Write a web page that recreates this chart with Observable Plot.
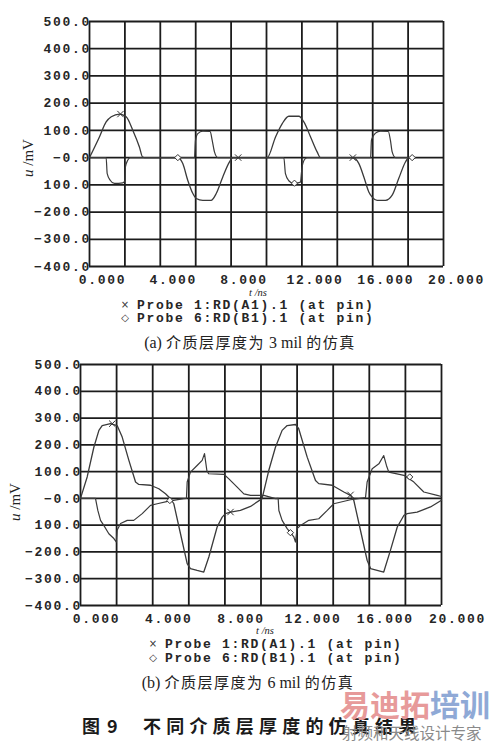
<!DOCTYPE html>
<html><head><meta charset="utf-8">
<script src="https://cdn.jsdelivr.net/npm/d3@7"></script>
<script src="https://cdn.jsdelivr.net/npm/@observablehq/plot@0.6"></script>
<style>
body{margin:0;background:#fff;}
#root{position:relative;width:494px;height:741px;overflow:hidden;background:#fff;}
.abs{position:absolute;white-space:pre;line-height:1;}
.c{transform:translate(-50%,-50%);}
.l{transform:translateY(-50%);}
.mono{font-family:"Liberation Mono",monospace;font-weight:bold;font-size:13px;letter-spacing:1.7px;color:#262626;}
.sym{font-family:"DejaVu Sans",sans-serif;font-size:10px;color:#333;}
.ylab{font-family:"Liberation Serif",serif;font-size:15px;color:#222;transform:translate(-50%,-50%) rotate(-90deg);}
.xlab{font-family:"Liberation Serif",serif;font-style:italic;font-size:10.5px;color:#222;}
.cap{font-family:"Noto Sans CJK SC",serif;font-size:15px;color:#222;letter-spacing:1.5px;}
.cap .lat{font-family:"Liberation Serif",serif;font-size:16px;letter-spacing:0;}
.fig{font-family:"Noto Sans CJK SC",serif;font-weight:bold;font-size:18px;letter-spacing:5.2px;color:#1a1a1a;}
.wm{font-family:"Noto Sans CJK SC",sans-serif;font-weight:bold;font-size:30px;letter-spacing:0;}
.wm2{font-family:"Noto Sans CJK SC",serif;font-size:15.5px;color:#8a8a8a;}
svg text{letter-spacing:1.7px;}
</style>
</head><body>
<div id="root"></div>
<script>
// ---------- data ----------
const xTicks = [0, 4, 8, 12, 16, 20];
const xTickLabels = ["0.000", "4.000", "8.000", "12.000", "16.000", "20.000"];
const xGrid = [0, 2, 4, 6, 8, 10, 12, 14, 16, 18, 20];
const yTicks = [-400, -300, -200, -100, 0, 100, 200, 300, 400, 500];
const yTickLabels = ["\u2212400.0", "\u2212300.0", "\u2212200.0", "100.0", "\u22120.0", "100.0", "200.0", "300.0", "400.0", "500.0"];

// (a) 3 mil — Probe 1 (A1)
const a3_t = [0,0.56,0.94,1.23,1.7,2.07,2.45,2.82,3.0,3.2, 4.99,5.27,5.55,5.84,6.03,6.4,6.87,7.16,7.53,7.91,8.1, 10.04,10.51,10.89,11.26,11.83,12.11,12.49,12.86,13.05, 14.88,15.22,15.5,15.78,15.97,16.25,16.72,17.1,17.47,17.85,18.04,18.4];
const a3_v = [0,76,131,150,160,150,100,39,2,0, 0,-22,-83,-132,-150,-157,-157,-132,-71,-16,0, 0,76,125,152,152,131,76,21,0, 0,-22,-71,-126,-145,-157,-157,-138,-77,-16,0,0];
// (a) 3 mil — Probe 6 (B1)
const b3_t = [0,0.94,1.0,1.17,1.41,1.88,2.0,2.03,2.16,2.3, 5.93,5.99,6.12,6.4,6.82,6.93,7.06,7.25, 10.98,11.07,11.26,11.54,11.92,11.98,12.05,12.2,12.3, 15.88,15.93,16.16,16.44,16.88,17.0,17.1,17.29,18.4];
const b3_v = [0,0,-59,-83,-95,-93,-85,-34,-10,0, 0,64,88,97,96,64,21,0, 0,-59,-85,-95,-90,-52,-22,-3,0, 0,64,90,97,96,64,21,0,0];
const a3_mark_t = [1.75, 8.4, 14.88];
const a3_mark_v = [160, 0, 0];
const b3_mark_t = [4.99, 11.58, 18.23];
const b3_mark_v = [0, -94, 0];

// (b) 6 mil — Probe 1 (A1)
const a6_t = [0,0.37,0.74,1.02,1.2,1.66,2.03,2.31,2.68,3.05,3.23,3.88,4.34,4.71,4.99,5.17,5.54,5.91,6.09,6.46,6.83,7.11,7.57,7.85,8.03,8.31,8.86,9.42,10.06,10.43,10.8,11.17,11.45,11.91,12.09,12.56,13.02,13.2,13.94,14.59,14.96,15.14,15.51,15.88,16.07,16.8,17.17,17.55,17.92,18.1,18.65,19.39,20];
const a6_v = [0,80,191,254,272,279,272,229,142,61,52,49,36,17,-1,-20,-132,-244,-262,-269,-275,-219,-107,-70,-57,-51,-45,-30,-1,104,191,254,272,276,260,154,67,55,49,24,11,-7,-119,-231,-262,-275,-194,-107,-63,-57,-51,-32,-7];
// (b) 6 mil — Probe 6 (B1)
const b6_t = [0,0.83,0.96,1.11,1.29,1.57,1.85,1.98,2.03,2.22,2.59,2.95,3.42,3.88,4.25,4.89,5.72,5.87,5.91,6.09,6.46,6.74,6.87,7.0,7.1,7.94,8.22,8.68,9.05,9.42,10.16,10.8,10.95,10.99,11.17,11.45,11.82,11.91,12.0,12.19,12.65,13.2,13.67,14.03,14.96,15.79,15.88,16.16,16.53,16.8,16.95,17.08,17.92,18.47,19.02,19.76,20];
const b6_v = [0,0,-45,-82,-101,-132,-150,-163,-119,-94,-82,-82,-57,-26,-20,-10,-1,0,61,98,123,142,167,104,92,90,73,42,17,11,11,-1,0,-45,-82,-113,-144,-163,-113,-101,-82,-76,-45,-20,-5,3,61,111,129,160,123,98,86,61,24,11,7];
const a6_mark_t = [1.76, 8.31, 14.96];
const a6_mark_v = [279, -51, 13];
const b6_mark_t = [4.95, 11.63, 18.24];
const b6_mark_v = [-8, -128, 80];

const legend1 = "Probe 1:RD(A1).1 (at pin)";
const legend6 = "Probe 6:RD(B1).1 (at pin)";
const capA = ["(a) ", "介质层厚度为", " 3 mil ", "的仿真"];
const capB = ["(b) ", "介质层厚度为", " 6 mil ", "的仿真"];
const figNum = ["图", "9"];
const figCap = "不同介质层厚度的仿真结果";

// ---------- helpers ----------
const zip = (t, v) => t.map((d, i) => ({t: d, v: v[i]}));
const root = document.getElementById("root");

function chart({a, b, ma, mb, height, marginTop, marginBottom, marginLeft, marginRight, curve, dxLab}) {
  const fmtX = d => xTickLabels[xTicks.indexOf(d)];
  const fmtY = d => yTickLabels[yTicks.indexOf(d)];
  return Plot.plot({
    width: 494, height, marginTop, marginBottom, marginLeft, marginRight,
    x: {domain: [0, 20]},
    y: {domain: [-400, 500]},
    style: {fontFamily: "Liberation Mono, monospace", fontSize: "13px", fontWeight: "bold", color: "#262626", background: "transparent", overflow: "visible"},
    marks: [
      Plot.ruleX(xGrid, {x: d => d, stroke: "#1c1c1c", strokeWidth: 1.8}),
      Plot.ruleY(yTicks, {y: d => d, stroke: "#1c1c1c", strokeWidth: 1.8}),
      Plot.line(a, {x: "t", y: "v", stroke: "#3a3a3a", strokeWidth: 1.3, curve}),
      Plot.line(b, {x: "t", y: "v", stroke: "#3a3a3a", strokeWidth: 1.2, curve}),
      Plot.dot(ma, {x: "t", y: "v", symbol: "times", r: 3, stroke: "#333", strokeWidth: 1}),
      Plot.dot(mb, {x: "t", y: "v", symbol: "diamond2", r: 2.8, stroke: "#333", fill: "white", strokeWidth: 1}),
      Plot.axisX(xTicks, {tickFormat: fmtX, tickSize: 0, tickPadding: 8, dx: dxLab, label: null}),
      Plot.axisY(yTicks, {tickFormat: fmtY, tickSize: 0, tickPadding: 0, dx: 1.5, label: null})
    ]
  });
}

function place(el, x, y) {
  el.style.left = x + "px"; el.style.top = y + "px";
  root.appendChild(el); return el;
}
function txt(cls, html, x, y) {
  const d = document.createElement("div");
  d.className = "abs " + cls; d.innerHTML = html;
  return place(d, x, y);
}

// top chart
const chartTop = chart({a: zip(a3_t, a3_v), b: zip(b3_t, b3_v), ma: zip(a3_mark_t, a3_mark_v), mb: zip(b3_mark_t, b3_mark_v),
  height: 290, marginTop: 21, marginBottom: 24, marginLeft: 89, marginRight: 51, curve: "monotone-x", dxLab: 13});
chartTop.style.position = "absolute"; chartTop.style.left = "0px"; chartTop.style.top = "0px";
root.appendChild(chartTop);

// bottom chart
const chartBot = chart({a: zip(a6_t, a6_v), b: zip(b6_t, b6_v), ma: zip(a6_mark_t, a6_mark_v), mb: zip(b6_mark_t, b6_mark_v),
  height: 280, marginTop: 14, marginBottom: 25, marginLeft: 80, marginRight: 53, curve: "linear", dxLab: 16});
chartBot.style.position = "absolute"; chartBot.style.left = "0px"; chartBot.style.top = "350px";
root.appendChild(chartBot);

// axis titles
txt("ylab", "<i>u</i> /mV", 28, 158);
txt("ylab", "<i>u</i> /mV", 15, 502);
txt("xlab c", "t /ns", 258, 293);
txt("xlab c", "t /ns", 265, 631);

// legends
txt("sym c", "\u00d7", 125, 305);
txt("mono l", legend1, 137, 305);
txt("sym c", "\u25c7", 125, 318);
txt("mono l", legend6, 137, 318);
txt("sym c", "\u00d7", 153, 644);
txt("mono l", legend1, 165, 644);
txt("sym c", "\u25c7", 153, 658);
txt("mono l", legend6, 165, 658);

// captions
const capHtml = c => `<span class="lat">${c[0]}</span>${c[1]}<span class="lat">${c[2]}</span>${c[3]}`;
txt("cap c", capHtml(capA), 250, 342);
txt("cap c", capHtml(capB), 248, 682);
txt("fig l", figNum[0], 82, 725);
txt("fig l", figNum[1], 107, 725);
txt("fig l", figCap, 143, 725);

// watermark
txt("wm l", '<span style="color:#e79a9a">易迪拓</span><span style="color:#8fa9d6">培训</span>', 340, 703);
txt("wm2 l", "射频和天线设计专家", 342, 733);
</script>
</body></html>
